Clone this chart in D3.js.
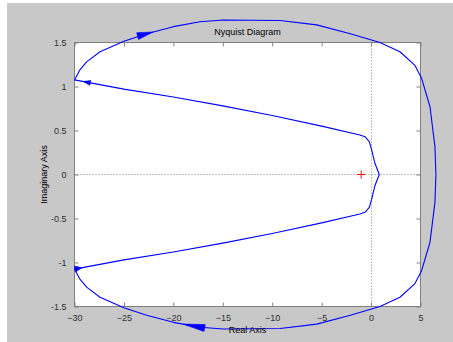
<!DOCTYPE html>
<html>
<head>
<meta charset="utf-8">
<script src="https://cdn.jsdelivr.net/npm/d3@7"></script>
<style>
  body { margin: 0; background: #ffffff; }
  svg { display: block; }
  text { font-family: "Liberation Sans", Arial, Helvetica, sans-serif; }
</style>
</head>
<body>
<svg id="chart" width="453" height="342"></svg>
<script>
// Nyquist contour, upper half (Im >= 0): from the real-axis crossing near +0.83,
// out along the inner branch to -30, then round the large outer arc back to the real axis.
const upperRe = [0.83, 0.39, 0.06, -0.18, -0.62, -1.13, -5, -10, -15, -20, -25, -30,
                 -29.45, -28.77, -27.42, -25, -22.7, -20, -17.3, -14.95, -9.2, -5.5, -2.1,
                 0.9, 2.92, 4.44, 5.12, 5.96, 6.46, 6.56];
const upperIm = [0, 0.127, 0.28, 0.373, 0.43, 0.449, 0.55, 0.67, 0.78, 0.88, 0.97, 1.075,
                 1.19, 1.28, 1.395, 1.515, 1.60, 1.68, 1.735, 1.755, 1.75, 1.70, 1.60,
                 1.50, 1.395, 1.24, 1.09, 0.77, 0.316, 0];

// Axis ticks
const xTicks = [-30, -25, -20, -15, -10, -5, 0, 5];
const yTicks = [-1.5, -1, -0.5, 0, 0.5, 1, 1.5];

// Critical point
const critical = [-1, 0];

// Direction arrows: which half, segment start index, fraction along it, travel sense
const arrowMarks = [
  { half: "upper", seg: 10, t: 0.82, sense: 1,  len: 7,  wid: 5 },
  { half: "upper", seg: 16, t: 0.24, sense: 1,  len: 16, wid: 7 },
  { half: "lower", seg: 17, t: 0.36, sense: -1, len: 22, wid: 7 },
  { half: "lower", seg: 10, t: 0.85, sense: -1, len: 7,  wid: 6 }
];

const svg = d3.select("#chart");
const W = 453, H = 342;

// Figure background
svg.append("rect").attr("x", 0).attr("y", 0).attr("width", W).attr("height", H).attr("fill", "#ffffff");
svg.append("rect").attr("x", 7).attr("y", 3).attr("width", W - 7).attr("height", H - 3).attr("fill", "#c8c8c8");

const x = d3.scaleLinear().domain([-30, 5]).range([74.5, 420.5]);
const y = d3.scaleLinear().domain([-1.5, 1.5]).range([306.5, 42.5]);

// Axes area
svg.append("rect")
  .attr("x", x(-30)).attr("y", y(1.5))
  .attr("width", x(5) - x(-30)).attr("height", y(-1.5) - y(1.5))
  .attr("fill", "#ffffff");

// Zero lines
svg.append("line")
  .attr("x1", x(-30)).attr("x2", x(5)).attr("y1", y(0)).attr("y2", y(0))
  .attr("stroke", "#808080").attr("stroke-width", 1).attr("stroke-dasharray", "1,2");
svg.append("line")
  .attr("x1", Math.round(x(0)) + 0.5).attr("x2", Math.round(x(0)) + 0.5)
  .attr("y1", y(1.5)).attr("y2", y(-1.5))
  .attr("stroke", "#808080").attr("stroke-width", 1).attr("stroke-dasharray", "1,2");

// Axes with inward ticks on all four sides
const tickLen = 4;
const axisColor = "#808080";
const labelColor = "#303030";

function styleAxis(g) {
  g.select(".domain").remove();
  g.selectAll(".tick line").attr("stroke", axisColor);
  g.selectAll(".tick text").attr("fill", labelColor).attr("font-size", 9)
    .attr("font-family", "\"Liberation Sans\", Arial, sans-serif");
}

svg.append("g").attr("transform", `translate(0,${y(-1.5)})`)
  .call(d3.axisBottom(x).tickValues(xTicks).tickSizeInner(-tickLen).tickSizeOuter(0).tickPadding(8).tickFormat(d3.format("d")))
  .call(styleAxis);
svg.append("g").attr("transform", `translate(0,${y(1.5)})`)
  .call(d3.axisTop(x).tickValues(xTicks).tickSizeInner(-tickLen).tickSizeOuter(0).tickFormat(""))
  .call(styleAxis);
svg.append("g").attr("transform", `translate(${x(-30)},0)`)
  .call(d3.axisLeft(y).tickValues(yTicks).tickSizeInner(-tickLen).tickSizeOuter(0).tickPadding(8).tickFormat(d => String(d)))
  .call(styleAxis);
svg.append("g").attr("transform", `translate(${x(5)},0)`)
  .call(d3.axisRight(y).tickValues(yTicks).tickSizeInner(-tickLen).tickSizeOuter(0).tickFormat(""))
  .call(styleAxis);

// Axes box
svg.append("rect")
  .attr("x", x(-30)).attr("y", y(1.5))
  .attr("width", x(5) - x(-30)).attr("height", y(-1.5) - y(1.5))
  .attr("fill", "none").attr("stroke", axisColor).attr("stroke-width", 1);

// Contour halves (lower half is the complex conjugate of the upper)
const upperPts = upperRe.map((r, i) => [r, upperIm[i]]);
const lowerPts = upperRe.map((r, i) => [r, -upperIm[i]]);
const halves = { upper: upperPts, lower: lowerPts };

const line = d3.line().x(d => x(d[0])).y(d => y(d[1]));
[upperPts, lowerPts].forEach(pts => {
  svg.append("path").attr("d", line(pts))
    .attr("fill", "none").attr("stroke", "#0000ff").attr("stroke-width", 1.1)
    .attr("stroke-linejoin", "round");
});

// Filled triangular arrowheads showing direction of travel
arrowMarks.forEach(a => {
  const pts = halves[a.half];
  const p0 = [x(pts[a.seg][0]), y(pts[a.seg][1])];
  const p1 = [x(pts[a.seg + 1][0]), y(pts[a.seg + 1][1])];
  const tip = [p0[0] + (p1[0] - p0[0]) * a.t, p0[1] + (p1[1] - p0[1]) * a.t];
  let dx = (p1[0] - p0[0]) * a.sense, dy = (p1[1] - p0[1]) * a.sense;
  const n = Math.hypot(dx, dy); dx /= n; dy /= n;
  const bx = tip[0] - dx * a.len, by = tip[1] - dy * a.len;
  const nx = -dy * a.wid / 2, ny = dx * a.wid / 2;
  svg.append("path")
    .attr("d", `M${tip[0]},${tip[1]}L${bx + nx},${by + ny}L${bx - nx},${by - ny}Z`)
    .attr("fill", "#0000ff").attr("stroke", "#0000ff").attr("stroke-width", 0.6);
});

// Critical point marker
const cx = x(critical[0]), cy = y(critical[1]);
svg.append("path")
  .attr("d", `M${cx - 4},${cy}L${cx + 4},${cy}M${cx},${cy - 4}L${cx},${cy + 4}`)
  .attr("stroke", "#ff0000").attr("stroke-width", 1);

// Titles
const midX = (x(-30) + x(5)) / 2;
svg.append("text").attr("x", midX).attr("y", 35).attr("text-anchor", "middle")
  .attr("font-size", 9).attr("fill", "#000").text("Nyquist Diagram");
svg.append("text").attr("x", midX).attr("y", 333).attr("text-anchor", "middle")
  .attr("font-size", 9).attr("fill", "#000").text("Real Axis");
svg.append("text")
  .attr("transform", `translate(46.5,${(y(1.5) + y(-1.5)) / 2}) rotate(-90)`)
  .attr("text-anchor", "middle").attr("font-size", 9).attr("fill", "#000").text("Imaginary Axis");
</script>
</body>
</html>
